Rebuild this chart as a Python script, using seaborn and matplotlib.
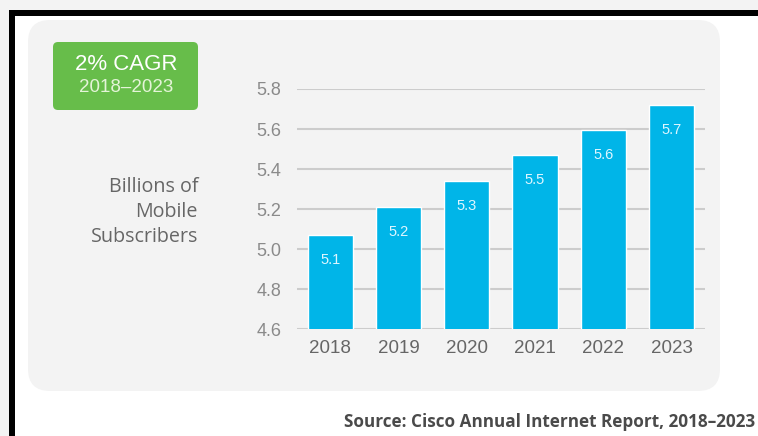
import matplotlib
matplotlib.use("Agg")
import matplotlib.pyplot as plt
from matplotlib.patches import FancyBboxPatch, Rectangle
import seaborn as sns
import pandas as pd

years = ["2018", "2019", "2020", "2021", "2022", "2023"]
subscribers = [5.07, 5.21, 5.34, 5.47, 5.595, 5.72]
bar_labels = ["5.1", "5.2", "5.3", "5.5", "5.6", "5.7"]
y_ticks = [4.6, 4.8, 5.0, 5.2, 5.4, 5.6, 5.8]
y_tick_labels = ["4.6", "4.8", "5.0", "5.2", "5.4", "5.6", "5.8"]

sns.set_theme(style="white")
plt.rcParams["font.family"] = ["Liberation Sans", "DejaVu Sans"]

W, H = 758, 436
fig = plt.figure(figsize=(W / 100, H / 100), dpi=100)
fig.patch.set_facecolor("#f3f3f3")

def fx(x):
    return x / W

def fy(y):
    return 1 - y / H

# white framed area and black border
fig.patches.append(Rectangle((fx(15), 0), 1 - fx(15), fy(16), transform=fig.transFigure,
                             facecolor="white", edgecolor="none", zorder=0))
fig.patches.append(Rectangle((fx(9), fy(16)), 1 - fx(9), fy(10) - fy(16), transform=fig.transFigure,
                             facecolor="black", edgecolor="none", zorder=1))
fig.patches.append(Rectangle((fx(9), 0), fx(15) - fx(9), fy(10), transform=fig.transFigure,
                             facecolor="black", edgecolor="none", zorder=1))
# rounded panel
panel = FancyBboxPatch((28, H - 391), 720 - 28, 391 - 20,
                       boxstyle="round,pad=0,rounding_size=22",
                       transform=None, facecolor="#f3f3f3", edgecolor="none", zorder=1)
fig.patches.append(panel)
# green CAGR box
gbox = FancyBboxPatch((53, H - 110), 198 - 53, 110 - 42,
                      boxstyle="round,pad=0,rounding_size=5",
                      transform=None, facecolor="#67bd4a", edgecolor="none", zorder=2)
fig.patches.append(gbox)
fig.text(fx(126), fy(64), "2% CAGR", ha="center", va="center", fontsize=16,
         color="white", zorder=3)
fig.text(fx(126), fy(88), "2018–2023", ha="center", va="center", fontsize=13.5,
         color="#e4f4d8", zorder=3)

fig.text(fx(198), fy(212), "Billions of\nMobile\nSubscribers", ha="right", va="center",
         fontsize=14.2, color="#666666", linespacing=1.33, family=["Open Sans", "DejaVu Sans"])

fig.text(fx(755), fy(422), "Source: Cisco Annual Internet Report, 2018–2023",
         ha="right", va="center", fontsize=12.3, fontweight="bold", color="#4a4a4a",
         family=["Open Sans", "DejaVu Sans"])

ax = fig.add_axes([fx(296.7), fy(329.3), fx(705) - fx(296.7), fy(89) - fy(329.3)])
ax.set_facecolor("none")
ax.set_zorder(3)

df = pd.DataFrame({"year": years, "value": subscribers})
sns.barplot(data=df, x="year", y="value", color="#00b5e8", saturation=1,
            width=0.66, ax=ax, zorder=3)

for i, (v, lab) in enumerate(zip(subscribers, bar_labels)):
    ax.annotate(lab, (i, v), xytext=(0, -25), textcoords="offset pixels",
                ha="center", va="center", fontsize=10.5, color="#dff6ff", zorder=4)

ax.set_ylim(4.6, 5.8)
ax.set_xlim(-0.49, 5.49)
ax.set_yticks(y_ticks)
ax.set_yticklabels(y_tick_labels)
ax.yaxis.grid(True, color="#cccccc", linewidth=1.5, zorder=0)
ax.set_axisbelow(True)
for s in ax.spines.values():
    s.set_visible(False)
ax.tick_params(axis="y", length=0, pad=11, labelsize=13, labelcolor="#8a8a8a")
ax.tick_params(axis="x", length=0, pad=8, labelsize=13.5, labelcolor="#666666")
ax.set_xlabel("")
ax.set_ylabel("")

fig.savefig("out.png", dpi=100)
